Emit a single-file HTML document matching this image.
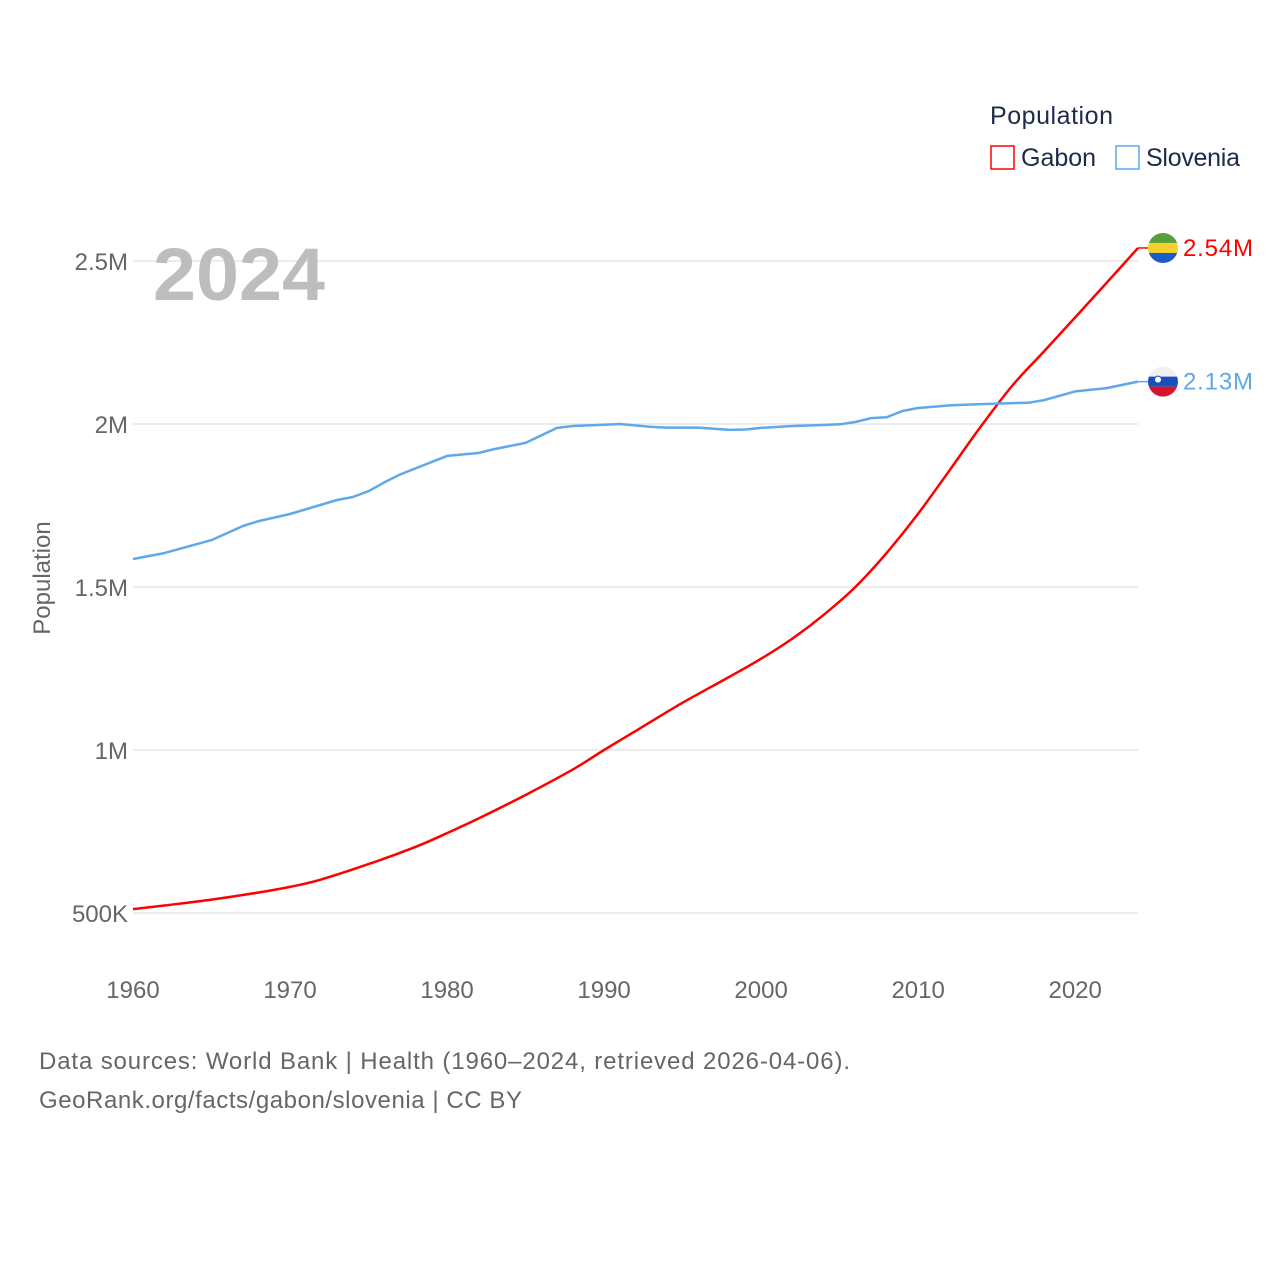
<!DOCTYPE html>
<html><head><meta charset="utf-8">
<style>
body{margin:0;background:#fff;font-family:"Liberation Sans",sans-serif;}
svg text{font-family:"Liberation Sans",sans-serif;}
</style></head>
<body>
<svg id="chart" width="1280" height="1280" viewBox="0 0 1280 1280">
<g id="grid"></g>
<g id="yticks"></g>
<g id="xticks"></g>
<text x="153" y="300" font-size="74" font-weight="bold" fill="#bdbdbd" textLength="172" lengthAdjust="spacingAndGlyphs">2024</text>
<text transform="translate(50,578) rotate(-90)" text-anchor="middle" font-size="24" fill="#666">Population</text>
<g id="series"></g>
<g>
<text x="990" y="124" font-size="25" fill="#1d2b4a" textLength="123">Population</text>
<rect x="991" y="146" width="23" height="23" fill="none" stroke="#ff0000" stroke-width="1.5"/>
<text x="1021" y="166" font-size="25" fill="#1d2b4a">Gabon</text>
<rect x="1116" y="146" width="23" height="23" fill="none" stroke="#5fa8ea" stroke-width="1.5"/>
<text x="1146" y="166" font-size="25" fill="#1d2b4a" textLength="94">Slovenia</text>
</g>
<text x="39" y="1069" font-size="24" fill="#666" textLength="811">Data sources: World Bank | Health (1960–2024, retrieved 2026-04-06).</text>
<text x="39" y="1108" font-size="24" fill="#666" textLength="483">GeoRank.org/facts/gabon/slovenia | CC BY</text>
</svg>
<script>
const yTickValues=[500000,1000000,1500000,2000000,2500000];
const yTickLabels=["500K","1M","1.5M","2M","2.5M"];
const xTickValues=[1960,1970,1980,1990,2000,2010,2020];
const gabonYears=[1960,1962,1965,1968,1970,1972,1975,1978,1980,1982,1985,1988,1990,1992,1995,1998,2000,2002,2004,2006,2008,2010,2012,2014,2016,2018,2020,2022,2024];
const gabonValues=[512000,523000,541000,563000,580000,603000,650000,703000,745000,790000,862000,940000,1000000,1058000,1145000,1225000,1280000,1342000,1415000,1500000,1605000,1725000,1858000,1993000,2118000,2222000,2327000,2433000,2540000];
const sloYears=[1960,1962,1965,1967,1968,1970,1973,1974,1975,1976,1977,1980,1982,1983,1985,1987,1988,1990,1991,1993,1994,1996,1998,1999,2000,2002,2004,2005,2006,2007,2008,2009,2010,2012,2014,2016,2017,2018,2020,2022,2024];
const sloValues=[1586000,1604000,1644000,1687000,1702000,1724000,1767000,1776000,1794000,1821000,1845000,1902000,1911000,1923000,1942000,1988000,1994000,1998000,2000000,1991000,1989000,1989000,1982000,1983000,1988000,1994000,1997000,1999000,2006000,2018000,2021000,2040000,2049000,2057000,2061000,2064000,2065000,2073000,2100000,2110000,2130000];
const NS="http://www.w3.org/2000/svg";
const x=v=>133+(v-1960)*(1005/64);
const y=v=>913-(v-500000)*(163/500000);
function mk(t,a,p){const e=document.createElementNS(NS,t);for(const k in a)e.setAttribute(k,a[k]);p.appendChild(e);return e;}
const grid=document.getElementById('grid'),yt=document.getElementById('yticks'),xt=document.getElementById('xticks'),ser=document.getElementById('series');
yTickValues.forEach((v,i)=>{
 const l=mk('line',{x1:133,x2:1138,y1:y(v),y2:y(v),stroke:'#e6e6e6','stroke-width':1.5},grid);
 
 
 const t=mk('text',{x:128,y:y(v)+9,'text-anchor':'end','font-size':24,fill:'#666'},yt);
 t.textContent=yTickLabels[i];
 
 
});
xTickValues.forEach(v=>{
 const t=mk('text',{x:x(v),y:998,'text-anchor':'middle','font-size':24,fill:'#666'},xt);
 t.textContent=v;
 
 
});
function line(yrs,vals,col,name,smooth){
 const P=yrs.map((yr,i)=>[x(yr),y(vals[i])]);
 let d='M'+P[0][0].toFixed(1)+','+P[0][1].toFixed(1);
 for(let i=1;i<P.length;i++){
  if(!smooth){d+=' L'+P[i][0].toFixed(1)+','+P[i][1].toFixed(1);continue;}
  const p0=P[i-2]||P[i-1],p1=P[i-1],p2=P[i],p3=P[i+1]||P[i];
  const c1=[p1[0]+(p2[0]-p0[0])/6,p1[1]+(p2[1]-p0[1])/6],c2=[p2[0]-(p3[0]-p1[0])/6,p2[1]-(p3[1]-p1[1])/6];
  d+=' C'+c1[0].toFixed(1)+','+c1[1].toFixed(1)+' '+c2[0].toFixed(1)+','+c2[1].toFixed(1)+' '+p2[0].toFixed(1)+','+p2[1].toFixed(1);
 }
 const p=mk('path',{d:d,fill:'none',stroke:col,'stroke-width':2.5,'stroke-linejoin':'round'},ser);
 
 
 const lv=vals[vals.length-1],ly=y(lv),lx=x(yrs[yrs.length-1]);
 mk('line',{x1:lx,x2:lx+10,y1:ly,y2:ly,stroke:col,'stroke-width':1.5},ser);
 const t=mk('text',{x:1183,y:ly+8,'font-size':24,fill:col,textLength:70},ser);
 t.textContent=(lv/1e6).toFixed(2)+'M';
 
 
 return ly;
}
const gy=line(gabonYears,gabonValues,'#ff0000','gabon',true);
const sy=line(sloYears,sloValues,'#5fa8ea','slovenia',false);
function flag(cy,cols,name){
 const g=mk('g',{},ser);
 
 
 const id='c'+name;
 const cp=mk('clipPath',{id:id},g);mk('circle',{cx:1163,cy:cy,r:15},cp);
 cols.forEach((c,i)=>mk('rect',{x:1148,y:cy-15+i*10,width:30,height:10,fill:c,'clip-path':'url(#'+id+')'},g));
 return g;
}
flag(gy,['#5a9e3a','#f7d02c','#1a5cc8'],'gabon');
const sg=flag(sy,['#f0f0f0','#1a4fbf','#d8142c'],'slovenia');
mk('circle',{cx:1158,cy:sy-2,r:3.5,fill:'#fff',stroke:'#1a4fbf'},sg);
</script>
</body></html>
